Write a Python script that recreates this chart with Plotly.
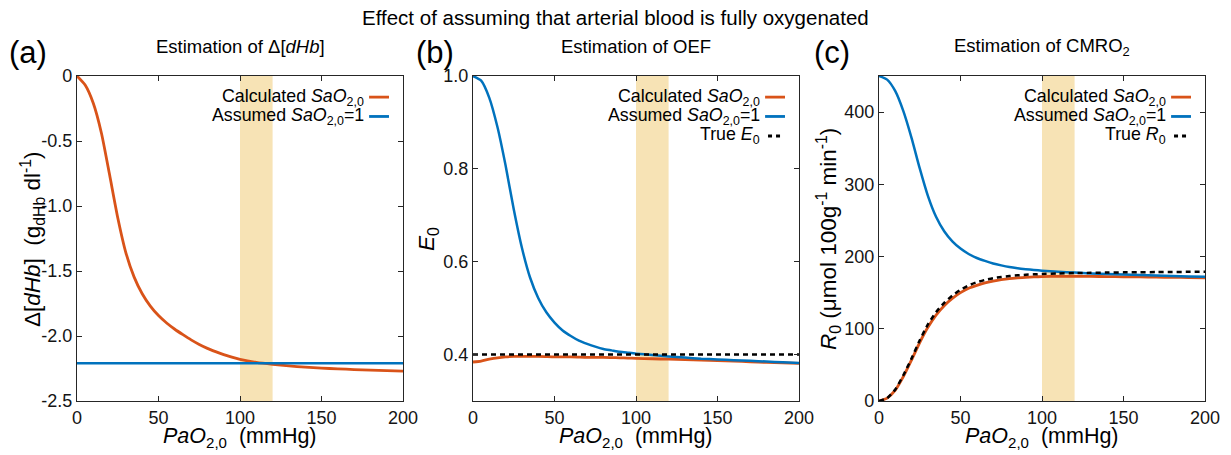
import plotly.graph_objects as go

# ---------------- data ----------------
PAO2 = [0, 5, 10, 15, 20, 25, 30, 35, 40, 45, 50, 55, 60, 65, 70, 75, 80, 85, 90, 95, 100,
        110, 120, 130, 140, 150, 160, 170, 180, 190, 200]
X_FLAT = [0, 200]

DHB_CALC = [0, -0.07, -0.21, -0.44, -0.76, -1.09, -1.36, -1.545, -1.675, -1.77, -1.843, -1.90, -1.948,
            -1.99, -2.03, -2.065, -2.095, -2.12, -2.143, -2.163, -2.18,
            -2.203, -2.218, -2.23, -2.24, -2.247, -2.253, -2.258, -2.263, -2.267, -2.27]
DHB_ASSUMED = [-2.21, -2.21]

OEF_CALC = [0.384, 0.386, 0.390, 0.393, 0.395, 0.396, 0.396, 0.396, 0.396, 0.3955, 0.395, 0.395, 0.395,
            0.3945, 0.394, 0.394, 0.394, 0.3935, 0.393, 0.3925, 0.392,
            0.391, 0.390, 0.389, 0.388, 0.387, 0.386, 0.3845, 0.383, 0.382, 0.381]
OEF_ASSUMED = [1.0, 0.99, 0.953, 0.89, 0.807, 0.713, 0.63, 0.566, 0.522, 0.491, 0.469, 0.452, 0.44,
               0.43, 0.423, 0.417, 0.412, 0.409, 0.406, 0.404, 0.402,
               0.399, 0.396, 0.3935, 0.391, 0.3895, 0.388, 0.3865, 0.385, 0.3835, 0.382]
OEF_TRUE = [0.4, 0.4]

CMRO2_CALC = [0, 4, 15, 34, 57, 81, 102, 119, 132, 142, 150, 156, 160, 163.5, 166, 168, 169.5, 170.5,
              171.3, 171.8, 172.2, 172.6, 172.7, 172.5, 172.3, 172, 171.8, 171.5, 171.2, 170.9, 170.6]
CMRO2_ASSUMED = [450, 445, 429, 401, 364, 322, 284, 255, 235, 221, 211, 203.5, 198, 194, 190.5, 187.8,
                 185.5, 183.8, 182.5, 181.4, 180.5, 179, 177.8, 176.7, 175.8, 175, 174.3, 173.6, 173,
                 172.5, 172]
CMRO2_TRUE = [0, 4, 16, 36, 59, 84, 106, 123, 136, 146, 154, 160, 164.5, 167.6, 170, 171.7, 173, 174,
              174.8, 175.4, 175.9, 176.6, 177.1, 177.5, 177.8, 178.1, 178.3, 178.5, 178.7, 178.85, 179]

BAND = [100, 120]

X_TICKS = [0, 50, 100, 150, 200]
YA_TICKS = [0, -0.5, -1.0, -1.5, -2.0, -2.5]
YA_TEXT = ["0", "-0.5", "-1.0", "-1.5", "-2.0", "-2.5"]
YB_TICKS = [0.4, 0.6, 0.8, 1.0]
YB_TEXT = ["0.4", "0.6", "0.8", "1.0"]
YC_TICKS = [0, 100, 200, 300, 400]

TITLE = "Effect of assuming that arterial blood is fully oxygenated"
SUBTITLES = ["Estimation of Δ[<i>dHb</i>]", "Estimation of OEF", "Estimation of CMRO<sub>2</sub>"]
LETTERS = ["(a)", "(b)", "(c)"]
XTITLE = "<i>PaO</i><sub>2,0</sub>\u00a0\u00a0(mmHg)"
YTITLES = ["Δ[<i>dHb</i>]\u00a0\u00a0(g<sub>dHb</sub> dl<sup>-1</sup>)",
           "<i>E</i><sub>0</sub>",
           "<i>R</i><sub>0</sub> (μmol 100g<sup>-1</sup> min<sup>-1</sup>)"]
LEG_CALC = "Calculated <i>SaO</i><sub>2,0</sub>"
LEG_ASSUMED = "Assumed <i>SaO</i><sub>2,0</sub>=1"
LEG_TRUE = ["True <i>E</i><sub>0</sub>", "True <i>R</i><sub>0</sub>"]

# ---------------- style ----------------
W, H = 1231, 455
FONT = "Liberation Sans, Arial, sans-serif"
ORANGE = "#D95319"
BLUE = "#0072BD"
AX = "#262626"
BANDC = "#F7E3B5"
DOT = "5px,4px"

XDOM = [[77 / W, 403 / W], [473 / W, 799 / W], [879 / W, 1205 / W]]
YDOM = [1 - 401 / H, 1 - 76 / H]

fig = go.Figure()

def line(x, y, color, width, ax, dash=None):
    fig.add_trace(go.Scatter(x=x, y=y, mode="lines", xaxis=ax[0], yaxis=ax[1],
                             line=dict(color=color, width=width, shape="spline", smoothing=0.6,
                                       dash=dash), showlegend=False, hoverinfo="skip"))

line(PAO2, DHB_CALC, ORANGE, 2.8, ("x", "y"))
line(X_FLAT, DHB_ASSUMED, BLUE, 2.5, ("x", "y"))

line(PAO2, OEF_CALC, ORANGE, 2.8, ("x2", "y2"))
line(PAO2, OEF_ASSUMED, BLUE, 2.5, ("x2", "y2"))
line(X_FLAT, OEF_TRUE, "black", 2.5, ("x2", "y2"), DOT)

line(PAO2, CMRO2_CALC, ORANGE, 2.8, ("x3", "y3"))
line(PAO2, CMRO2_ASSUMED, BLUE, 2.5, ("x3", "y3"))
line(PAO2, CMRO2_TRUE, "black", 2.5, ("x3", "y3"), DOT)

common = dict(showline=True, linecolor=AX, linewidth=1.2, mirror="ticks", ticks="inside",
              ticklen=5, tickcolor=AX, tickwidth=1.2, showgrid=False, zeroline=False,
              tickfont=dict(size=18, color="#141414", family=FONT), automargin=False)

layout = dict(width=W, height=H, margin=dict(l=0, r=0, t=0, b=0),
              paper_bgcolor="white", plot_bgcolor="white", font=dict(family=FONT, color="black"))

ynames = ["yaxis", "yaxis2", "yaxis3"]
xnames = ["xaxis", "xaxis2", "xaxis3"]
yspecs = [dict(range=[-2.5, 0], tickvals=YA_TICKS, ticktext=YA_TEXT),
          dict(range=[0.3, 1.0], tickvals=YB_TICKS, ticktext=YB_TEXT),
          dict(range=[0, 450], tickvals=YC_TICKS)]
for i in range(3):
    xa = "x" if i == 0 else f"x{i+1}"
    ya = "y" if i == 0 else f"y{i+1}"
    layout[xnames[i]] = dict(common, domain=XDOM[i], anchor=ya, range=[0, 200], tickvals=X_TICKS)
    layout[ynames[i]] = dict(common, domain=YDOM, anchor=xa, **yspecs[i])

fig.update_layout(**layout)

shapes = []
annotations = []
annotations.append(dict(text=TITLE, x=615 / W, y=1 - 18 / H, xref="paper", yref="paper",
                        xanchor="center", yanchor="middle", showarrow=False,
                        font=dict(size=20.5, color="black")))

letter_x = [7, 414, 812]
ytitle_x = [32, 428, 828]
for i in range(3):
    xa = "x" if i == 0 else f"x{i+1}"
    ya = "y" if i == 0 else f"y{i+1}"
    cx = (XDOM[i][0] + XDOM[i][1]) / 2
    shapes.append(dict(type="rect", xref=xa, yref=f"{ya} domain", x0=BAND[0], x1=BAND[1], y0=0, y1=1,
                       fillcolor=BANDC, line=dict(width=0), layer="below"))
    annotations.append(dict(text=SUBTITLES[i], x=cx, y=1 - 47 / H, xref="paper", yref="paper",
                            xanchor="center", yanchor="middle", showarrow=False,
                            font=dict(size=18.5, color="black")))
    annotations.append(dict(text=LETTERS[i], x=letter_x[i] / W, y=1 - 52 / H, xref="paper", yref="paper",
                            xanchor="left", yanchor="middle", showarrow=False,
                            font=dict(size=31, color="black")))
    annotations.append(dict(text=XTITLE, x=cx, y=1 - 437 / H, xref="paper", yref="paper",
                            xanchor="center", yanchor="middle", showarrow=False,
                            font=dict(size=21.5, color="black")))
    annotations.append(dict(text=YTITLES[i], x=ytitle_x[i] / W, y=1 - 239 / H, xref="paper", yref="paper",
                            xanchor="center", yanchor="middle", textangle=-90, showarrow=False,
                            font=dict(size=22.5, color="black")))
    entries = [(LEG_CALC, ORANGE, None), (LEG_ASSUMED, BLUE, None)]
    if i > 0:
        entries.append((LEG_TRUE[i - 1], "black", "4px,4px"))
    ys = [0.935, 0.8755, 0.8154]
    for k, (txt, col, dsh) in enumerate(entries):
        annotations.append(dict(text=txt, x=0.8865, y=ys[k], xref=f"{xa} domain", yref=f"{ya} domain",
                                xanchor="right", yanchor="middle", showarrow=False,
                                font=dict(size=17.8, color="black")))
        if dsh is None:
            shapes.append(dict(type="line", xref=f"{xa} domain", yref=f"{ya} domain",
                               x0=0.896, x1=0.957, y0=ys[k], y1=ys[k], line=dict(color=col, width=2.8)))
        else:
            shapes.append(dict(type="line", xref=f"{xa} domain", yref=f"{ya} domain",
                               x0=0.905, x1=0.945, y0=ys[k], y1=ys[k],
                               line=dict(color=col, width=2.8, dash=dsh)))

fig.update_layout(shapes=shapes, annotations=annotations)
fig.write_html("out.html", config={"displayModeBar": False},
               post_script="document.body.style.margin='0px';")
